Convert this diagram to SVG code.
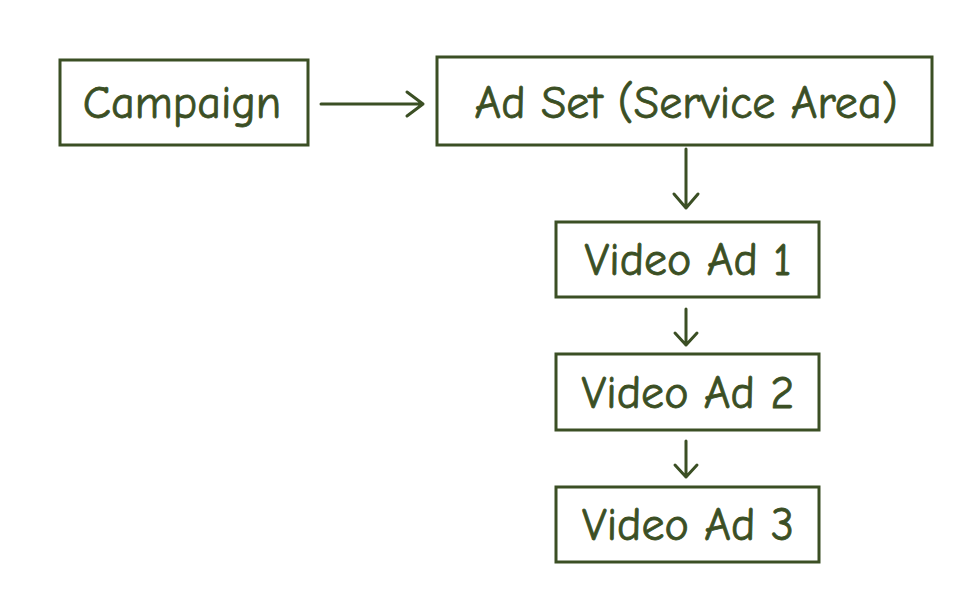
<svg xmlns="http://www.w3.org/2000/svg" width="980" height="601" viewBox="0 0 980 601">
<style>
.box{fill:none;stroke:#3b4f24;stroke-width:3}
.t{font-family:"Comic Neue","Noto Sans",sans-serif;font-size:46px;fill:#3b4f24;stroke:#3b4f24;stroke-width:0.8;text-anchor:middle;dominant-baseline:central}
.c{fill:none;stroke:#3b4f24;stroke-width:3;stroke-linecap:round;stroke-linejoin:round}
</style>
<rect width="980" height="601" fill="#fff"/>
<g id="campaign"><rect class="box" x="60" y="60" width="248" height="85"/><text class="t" x="182" y="103">Campaign</text></g>
<g id="adset"><rect class="box" x="437" y="57" width="495" height="88"/><text class="t" x="686" y="103">Ad Set (Service Area)</text></g>
<g id="video1"><rect class="box" x="556" y="222" width="263" height="75"/><text class="t" x="688" y="260">Video Ad 1</text></g>
<g id="video2"><rect class="box" x="556" y="354" width="263" height="76"/><text class="t" x="688" y="393">Video Ad 2</text></g>
<g id="video3"><rect class="box" x="556" y="487" width="263" height="75"/><text class="t" x="688" y="525">Video Ad 3</text></g>
<g id="connectors">
<path class="c" d="M321 104 H423 M407 92 L423 104 L407 116"/>
<path class="c" d="M686 149 V208 M674 194 L686 208 L698 194"/>
<path class="c" d="M686 309 V345 M675 333 L686 345 L697 333"/>
<path class="c" d="M686 441 V477 M675 465 L686 477 L697 465"/>
</g>
</svg>
